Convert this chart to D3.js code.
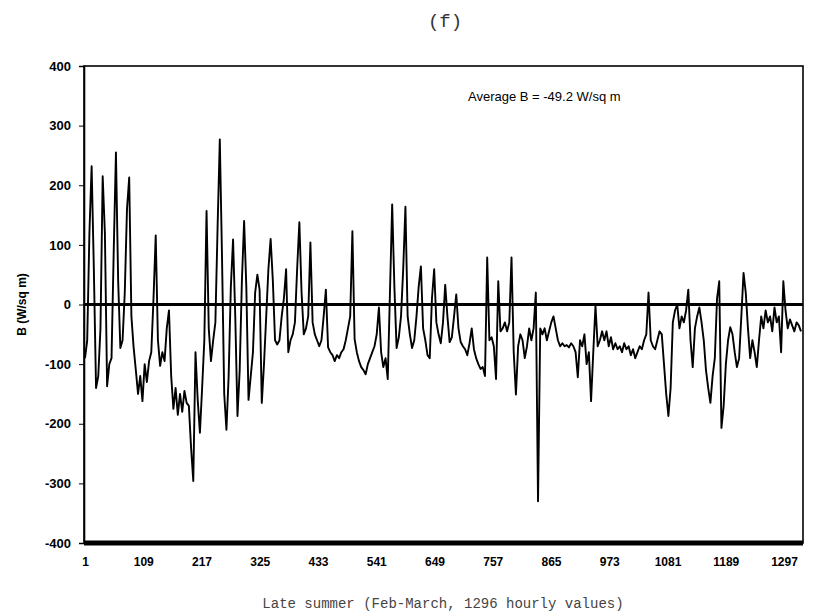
<!DOCTYPE html>
<html>
<head>
<meta charset="utf-8">
<script src="https://cdn.jsdelivr.net/npm/d3@7/dist/d3.min.js"></script>
<style>
  body { margin: 0; background: #fff; }
  svg { display: block; }
</style>
</head>
<body>
<div id="chart"></div>
<script>
const yTicks = [400, 300, 200, 100, 0, -100, -200, -300, -400];
const xTickLabels = [1, 109, 217, 325, 433, 541, 649, 757, 865, 973, 1081, 1189, 1297];

// net radiation B, every 4 hours
const stepHours = 4;
const bValues = [
  -90, -60, 120, 232, 60, -140, -120, -40, 215, 120, -137, -100,
  -90, 90, 255, 40, -73, -60, 20, 160, 213, -20, -72, -110,
  -150, -120, -162, -100, -130, -95, -80, 10, 116, -60, -103, -80,
  -95, -40, -10, -120, -175, -140, -185, -150, -180, -145, -165, -170,
  -240, -296, -80, -160, -215, -140, -60, 157, -40, -95, -60, -30,
  130, 277, 80, -150, -210, -120, 30, 109, -20, -187, -110, 40,
  140, 30, -160, -120, -80, 20, 50, 25, -165, -100, -20, 60,
  110, 40, -60, -67, -60, -20, 10, 59, -80, -60, -50, -30,
  60, 138, 20, -50, -40, -20, 104, -30, -50, -60, -70, -60,
  -20, 25, -72, -80, -85, -95, -85, -90, -80, -75, -60, -40,
  -20, 123, -58, -80, -95, -105, -110, -117, -100, -90, -80, -70,
  -50, -5, -80, -105, -90, -125, 20, 168, 30, -73, -55, -20,
  60, 164, -20, -50, -73, -60, -20, 30, 64, -40, -60, -85,
  -90, 10, 59, -30, -50, -65, -30, 33, -20, -63, -55, -20,
  17, -40, -63, -70, -75, -85, -65, -40, -75, -90, -100, -108,
  -105, -120, 79, -60, -55, -70, -125, 39, -45, -40, -30, -45,
  -30, 79, -80, -151, -70, -50, -60, -90, -70, -40, -60, -40,
  20, -330, -40, -50, -40, -60, -45, -30, -20, -40, -60, -70,
  -65, -70, -68, -72, -65, -70, -80, -122, -60, -70, -50, -100,
  -80, -162, -80, -2, -70, -60, -45, -60, -45, -70, -55, -75,
  -65, -75, -70, -80, -65, -75, -70, -85, -75, -90, -80, -70,
  -75, -60, -50, 20, -60, -70, -75, -60, -45, -50, -100, -150,
  -187, -140, -30, -10, 0, -40, -20, -30, -10, 25, -60, -105,
  -40, -20, -5, -30, -60, -110, -140, -165, -120, -90, 10, 39,
  -207, -170, -100, -60, -38, -50, -80, -105, -90, -20, 53, 20,
  -40, -90, -60, -80, -105, -60, -20, -40, -10, -30, -20, -45,
  -5, -30, -20, -80, 39, -10, -40, -25, -35, -45, -30, -35,
  -45
];
const averageText = "Average B = -49.2 W/sq m";

const series = bValues.map((v, i) => ({ hour: 1 + i * stepHours, b: v }));

const totalWidth = 823,
  totalHeight = 615,
  margin = { top: 66, right: 20, bottom: 72, left: 84 },
  width = totalWidth - margin.left - margin.right,
  height = totalHeight - margin.top - margin.bottom;

const svg = d3.select("#chart").append("svg")
  .attr("width", totalWidth)
  .attr("height", totalHeight);

const graph = svg.append("g")
  .attr("transform", `translate(${margin.left}, ${margin.top})`);

// the line runs to the right frame, the category labels sit a little short of it
const xScale = d3.scaleLinear()
  .domain([1, series[series.length - 1].hour])
  .range([1, width - 2]);
const xLabelScale = d3.scaleLinear().domain([1, 1297]).range([1, 700]);
const yScale = d3.scaleLinear().domain([-400, 400]).range([height, 0]);

// frame
graph.append("rect")
  .attr("x", 0).attr("y", 0)
  .attr("width", width).attr("height", height)
  .attr("fill", "none")
  .attr("stroke", "#000")
  .attr("stroke-width", 1.6);

const line = d3.line()
  .x((d) => xScale(d.hour))
  .y((d) => yScale(d.b));

graph.append("path")
  .datum(series)
  .attr("fill", "none")
  .attr("stroke", "#000")
  .attr("stroke-width", 1.9)
  .attr("stroke-linejoin", "round")
  .attr("d", line);

// zero line
graph.append("line")
  .attr("x1", 0).attr("x2", width)
  .attr("y1", yScale(0)).attr("y2", yScale(0))
  .attr("stroke", "#000")
  .attr("stroke-width", 3);

// heavy base line
graph.append("line")
  .attr("x1", 0).attr("x2", width)
  .attr("y1", yScale(-400)).attr("y2", yScale(-400))
  .attr("stroke", "#000")
  .attr("stroke-width", 5);

const plainNumber = (d) => String(d);

const yAxis = d3.axisLeft(yScale).tickValues(yTicks).tickSize(5).tickPadding(8)
  .tickFormat(plainNumber);
const yAxisGroup = graph.append("g").call(yAxis);
yAxisGroup.select(".domain").attr("stroke-width", 1.6);
yAxisGroup.selectAll("text")
  .attr("font-family", "Liberation Sans, Arial, sans-serif")
  .attr("font-weight", "bold")
  .attr("font-size", "13px")
  .attr("fill", "#000");

const xAxis = d3.axisBottom(xLabelScale).tickValues(xTickLabels).tickSize(0).tickPadding(14)
  .tickFormat(plainNumber);
const xAxisGroup = graph.append("g")
  .attr("transform", `translate(0, ${height})`)
  .call(xAxis);
xAxisGroup.select(".domain").remove();
xAxisGroup.selectAll("text")
  .attr("font-family", "Liberation Sans, Arial, sans-serif")
  .attr("font-weight", "bold")
  .attr("font-size", "12px")
  .attr("fill", "#000");

// y axis title
svg.append("text")
  .attr("transform", `translate(26, ${margin.top + yScale(0)}) rotate(-90)`)
  .attr("text-anchor", "middle")
  .attr("font-family", "Liberation Sans, Arial, sans-serif")
  .attr("font-weight", "bold")
  .attr("font-size", "12px")
  .text("B (W/sq m)");

// annotation
graph.append("text")
  .attr("x", 384)
  .attr("y", 35)
  .attr("font-family", "Liberation Sans, Arial, sans-serif")
  .attr("font-size", "13px")
  .text(averageText);

// panel letter and caption
svg.append("text")
  .attr("x", 445)
  .attr("y", 27)
  .attr("text-anchor", "middle")
  .attr("font-family", "Liberation Mono, monospace")
  .attr("font-size", "19px")
  .attr("fill", "#333")
  .text("(f)");

svg.append("text")
  .attr("x", 443)
  .attr("y", 608)
  .attr("text-anchor", "middle")
  .attr("font-family", "Liberation Mono, monospace")
  .attr("font-size", "14px")
  .attr("fill", "#444")
  .text("Late summer (Feb-March, 1296 hourly values)");
</script>
</body>
</html>
